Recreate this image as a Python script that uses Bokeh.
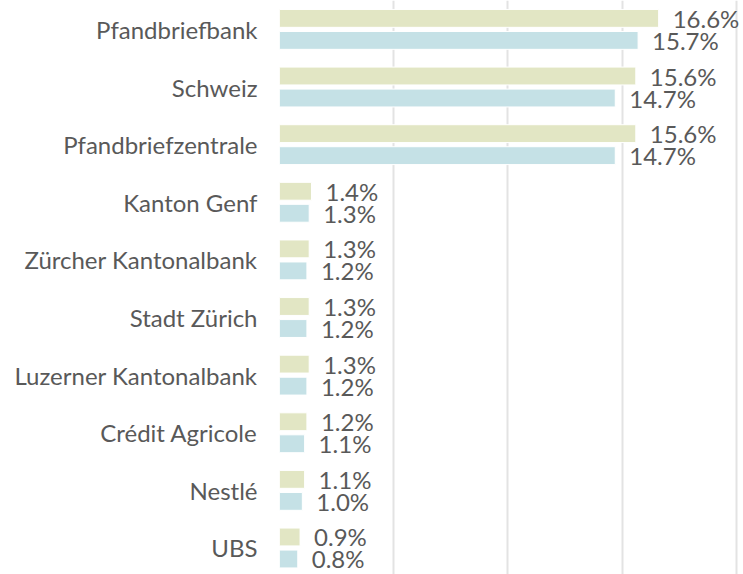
from bokeh.plotting import figure
from bokeh.models import Range1d, FixedTicker, ColumnDataSource
from bokeh.embed import file_html
from bokeh.resources import INLINE
from bokeh.core.properties import value

categories = ["Pfandbriefbank", "Schweiz", "Pfandbriefzentrale", "Kanton Genf",
              "Zürcher Kantonalbank", "Stadt Zürich", "Luzerner Kantonalbank",
              "Crédit Agricole", "Nestlé", "UBS"]
series_a = [16.6, 15.6, 15.6, 1.4, 1.3, 1.3, 1.3, 1.2, 1.1, 0.9]
series_b = [15.7, 14.7, 14.7, 1.3, 1.2, 1.2, 1.2, 1.1, 1.0, 0.8]
grid_ticks = [0, 5, 10, 15, 20]

n = len(categories)
pos = [n - 1 - i for i in range(n)]
off = 0.191
h = 0.31

src_a = ColumnDataSource(dict(y=[p + off for p in pos], v=series_a,
                              lbl=[f"{v:.1f}%" for v in series_a]))
src_b = ColumnDataSource(dict(y=[p - off for p in pos], v=series_b,
                              lbl=[f"{v:.1f}%" for v in series_b]))

p = figure(width=743, height=574, output_backend="svg", toolbar_location=None,
           x_range=Range1d(0, 20.315), y_range=Range1d(-0.46, n - 1 + 0.5016),
           min_border_left=279, min_border_right=0, min_border_top=0, min_border_bottom=0)
p.outline_line_color = None
p.background_fill_color = "white"
p.border_fill_color = "white"

p.hbar(y="y", right="v", left=0, height=h, source=src_a,
       fill_color="#e2e6c4", line_color="white", line_width=1)
p.hbar(y="y", right="v", left=0, height=h, source=src_b,
       fill_color="#c5e1e6", line_color="white", line_width=1)

for src in (src_a, src_b):
    p.text(x="v", y="y", text="lbl", source=src, x_offset=14,
           text_baseline="middle", text_align="left",
           text_font=value("Lato"), text_font_size="24px", text_color="#595959")

p.xaxis.visible = False
p.xaxis.ticker = FixedTicker(ticks=grid_ticks)
p.xgrid.ticker = FixedTicker(ticks=grid_ticks)
p.xgrid.grid_line_color = "#e3e3e3"
p.xgrid.grid_line_width = 2
p.ygrid.visible = False

p.yaxis.ticker = FixedTicker(ticks=pos)
p.yaxis.major_label_overrides = {pp: c for pp, c in zip(pos, categories)}
p.yaxis.axis_line_color = None
p.yaxis.major_tick_line_color = None
p.yaxis.minor_tick_line_color = None
p.yaxis.major_tick_out = 0
p.yaxis.major_tick_in = 0
p.yaxis.major_label_standoff = 22
p.yaxis.major_label_text_font = "Lato"
p.yaxis.major_label_text_font_size = "24px"
p.yaxis.major_label_text_color = "#595959"

open("out.html", "w").write(file_html(p, INLINE))
